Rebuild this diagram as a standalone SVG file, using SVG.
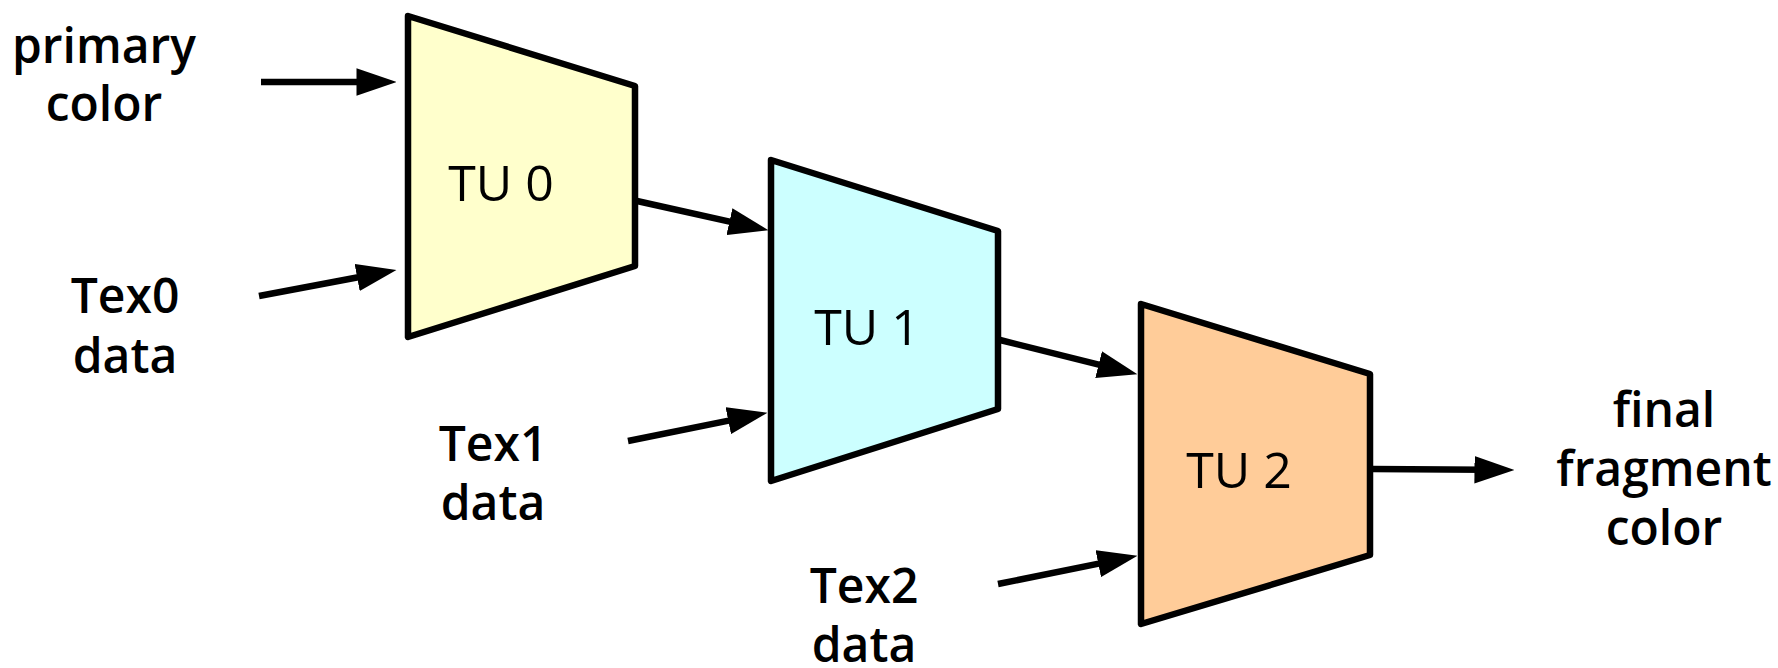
<svg xmlns="http://www.w3.org/2000/svg" width="1778" height="668" viewBox="0 0 1778 668">
<defs>
<style>
.unit{stroke:#000;stroke-width:6.5;stroke-linejoin:round}
.lbl{font-family:"Open Sans","DejaVu Sans",sans-serif;font-size:48px;font-weight:600;fill:#000;text-anchor:middle}
.tu{font-family:"Open Sans","DejaVu Sans",sans-serif;font-size:50px;font-weight:500;fill:#000;text-anchor:middle}
.conn{stroke:#000;stroke-width:6.5;fill:none;marker-end:url(#ah)}
</style>
<marker id="ah" markerUnits="userSpaceOnUse" markerWidth="40" markerHeight="28" viewBox="0 0 38 26" refX="10" refY="13" orient="auto">
<path d="M0,0 L38,13 L0,26 z" fill="#000"/>
</marker>
</defs>
<rect width="1778" height="668" fill="#fff"/>
<g id="connectors">
<line class="conn" x1="261" y1="82" x2="367" y2="82"/>
<line class="conn" x1="259" y1="296" x2="367.5" y2="275.5"/>
<line class="conn" x1="637" y1="201" x2="739.7" y2="223.9"/>
<line class="conn" x1="628" y1="441" x2="738.6" y2="418.6"/>
<line class="conn" x1="1000" y1="340" x2="1108.8" y2="367.2"/>
<line class="conn" x1="998" y1="584" x2="1108.6" y2="561.6"/>
<line class="conn" x1="1372" y1="469" x2="1485" y2="469.8"/>
</g>
<g id="tu0">
<polygon class="unit" fill="#FFFFCC" points="408,16 635,86 635,266 408,337"/>
<text class="tu" x="501" y="201">TU 0</text>
</g>
<g id="tu1">
<polygon class="unit" fill="#CCFFFF" points="771,160 998,231 998,409 771,481"/>
<text class="tu" x="867" y="345">TU 1</text>
</g>
<g id="tu2">
<polygon class="unit" fill="#FFCC99" points="1141,304 1370,374 1370,555 1141,624"/>
<text class="tu" x="1239" y="488">TU 2</text>
</g>
<g id="primary-color">
<text class="lbl" x="104" y="63">primary</text>
<text class="lbl" x="104" y="121">color</text>
</g>
<g id="tex0-data">
<text class="lbl" x="125" y="313">Tex0</text>
<text class="lbl" x="125" y="373">data</text>
</g>
<g id="tex1-data">
<text class="lbl" x="493" y="461">Tex1</text>
<text class="lbl" x="493" y="520">data</text>
</g>
<g id="tex2-data">
<text class="lbl" x="864" y="603">Tex2</text>
<text class="lbl" x="864" y="662">data</text>
</g>
<g id="final-color">
<text class="lbl" x="1664" y="427">final</text>
<text class="lbl" x="1664" y="486">fragment</text>
<text class="lbl" x="1664" y="545">color</text>
</g>
</svg>
